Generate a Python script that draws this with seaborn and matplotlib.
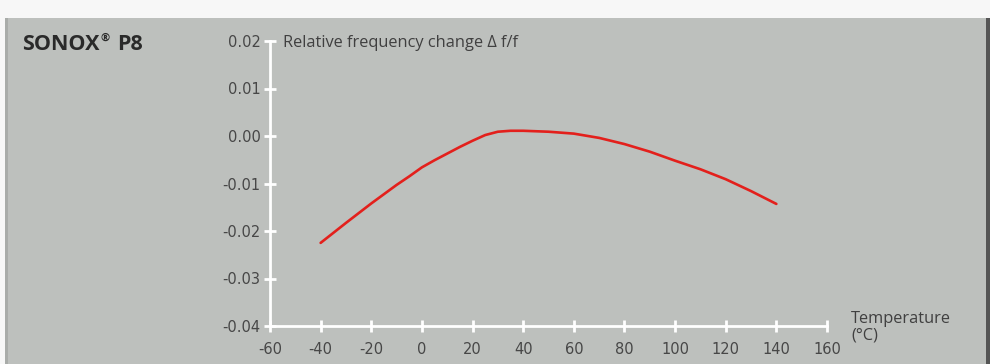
import matplotlib
matplotlib.use("Agg")
import matplotlib.pyplot as plt
import seaborn as sns
import pandas as pd
from matplotlib.patches import Rectangle

temperature = [-40, -30, -20, -10, -5, 0, 5, 10, 15, 20, 25, 30, 35, 40, 50, 60, 70, 80, 90,
               100, 110, 120, 130, 140]
freq_change = [-0.0225, -0.0183, -0.0142, -0.0103, -0.0085, -0.0066, -0.0051, -0.0037, -0.0023,
               -0.0010, 0.0002, 0.0009, 0.0011, 0.0011, 0.0009, 0.0005, -0.0004, -0.0017,
               -0.0033, -0.0052, -0.0070, -0.0091, -0.0116, -0.0143]
x_ticks = [-60, -40, -20, 0, 20, 40, 60, 80, 100, 120, 140, 160]
y_ticks = [-0.04, -0.03, -0.02, -0.01, 0.00, 0.01, 0.02]
y_tick_labels = ["-0.04", "-0.03", "-0.02", "-0.01", "0.00", "0.01", "0.02"]

df = pd.DataFrame({"T": temperature, "df": freq_change})

sns.set_style("white")
plt.rcParams["font.family"] = ["Open Sans", "DejaVu Sans"]

bg = "#bdc0bd"
txt = "#404040"
W, H = 990, 364
fig = plt.figure(figsize=(9.9, 3.64), dpi=100)
fig.patch.set_facecolor("#f7f7f7")

bgax = fig.add_axes([0, 0, 1, 1], zorder=0)
bgax.set_xlim(0, W)
bgax.set_ylim(H, 0)
bgax.axis("off")
bgax.add_patch(Rectangle((7, 18), 981, H - 18, facecolor=bg, edgecolor="none"))
bgax.add_patch(Rectangle((5, 18), 3, H - 18, facecolor="#a9aca9", edgecolor="none"))
bgax.add_patch(Rectangle((986, 18), 4, H - 18, facecolor="#555555", edgecolor="none"))

ax = fig.add_axes([270/W, 1 - 326/H, (827 - 270)/W, (326 - 41)/H], zorder=2)
ax.set_facecolor("none")
sns.lineplot(data=df, x="T", y="df", ax=ax, color="#e3201c", linewidth=1.9)

ax.set_xlim(-60, 160)
ax.set_ylim(-0.04, 0.02)
ax.set_xticks(x_ticks)
ax.set_xticklabels([str(v) for v in x_ticks])
ax.set_yticks(y_ticks)
ax.set_yticklabels(y_tick_labels)
ax.set_xlabel("")
ax.set_ylabel("")

for s in ["top", "right"]:
    ax.spines[s].set_visible(False)
for s in ["left", "bottom"]:
    ax.spines[s].set_color("white")
    ax.spines[s].set_linewidth(2)
ax.tick_params(axis="both", bottom=True, left=True, direction="inout", length=8.6, width=2,
               color="white", labelsize=10.5, labelcolor="#474747")
ax.tick_params(axis="x", pad=7)
ax.tick_params(axis="y", pad=2.5)
for lab in ax.get_xticklabels() + ax.get_yticklabels():
    lab.set_family("DejaVu Sans")

title_kw = dict(fontsize=15.5, fontweight="bold", color="#2a2a2a", va="baseline")
t1 = bgax.text(22, 50, "SONOX", **title_kw)
fig.canvas.draw()
x_end = t1.get_window_extent().x1
bgax.text(x_end + 1, 41, "\u00ae", fontsize=8, fontweight="bold", color="#2a2a2a", va="baseline")
bgax.text(117, 50, "P8", **title_kw)

bgax.text(283, 47, "Relative frequency change \u0394 f/f", fontsize=11.8,
          color=txt, va="baseline")
bgax.text(851, 323, "Temperature", fontsize=11.8, color=txt, va="baseline")
bgax.text(851, 339, "(\u00b0C)", fontsize=11.8, color=txt, va="baseline")

fig.savefig("out.png", dpi=100, facecolor=fig.get_facecolor())
